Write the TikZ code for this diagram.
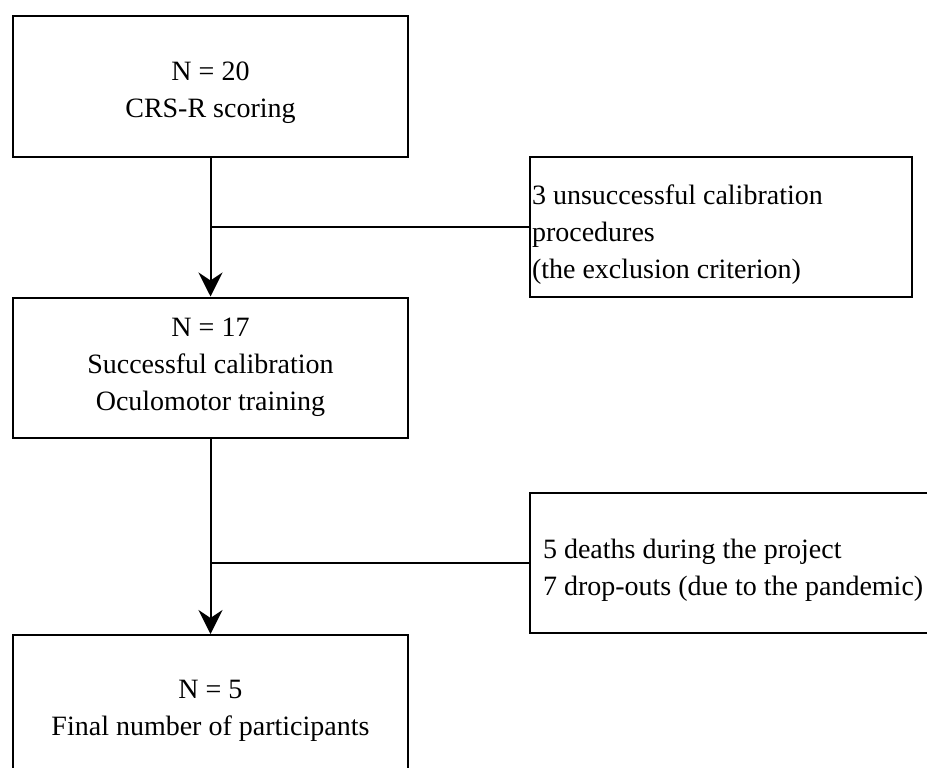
\documentclass[tikz,border=0pt]{standalone}
\usepackage{fontspec}
\setmainfont{Liberation Serif}
\usetikzlibrary{arrows.meta}

\tikzset{every picture/.style={line width=1.5pt}}
\tikzset{
	stagebox/.style={draw, rectangle, minimum width=296.25pt, minimum height=105pt, align=center, font=\fontsize{21}{27.75}\selectfont},
	notebox/.style={draw, rectangle, minimum height=105pt, align=flush left, font=\fontsize{21}{27.75}\selectfont},
	flowarrow/.style={-{Stealth[length=18pt,width=18pt,inset=6pt]}}}

\begin{document}
\begin{tikzpicture}[x=0.75pt,y=0.75pt,yscale=-1,xscale=1]
	\useasboundingbox (0,0) rectangle (927,767);
	\clip (0,0) rectangle (927,767);

	% Stage Boxes
	\node [stagebox] (crs) at (210.5,86.5) {\rule{0pt}{24pt}N = 20\\CRS-R scoring};
	\node [stagebox] (oculo) at (210.5,367.5) {N = 17\\Successful calibration\\Oculomotor training};
	\node [stagebox] (final) at (210.5,705) {\rule{0pt}{22pt}N = 5\\Final number of participants};

	% Exclusion Boxes
	\node [notebox, inner xsep=1.5pt, text width=283.5pt] (excl) at (721,227) {\rule{0pt}{25.5pt}3 unsuccessful calibration\\procedures\\(the exclusion criterion)};
	\node [notebox, inner xsep=9.75pt, text width=295.5pt] (drop) at (740,563) {\rule{0pt}{26pt}5 deaths during the project\\7 drop-outs (due to the pandemic)};

	% Connectors
	\draw [flowarrow] (crs) -- (oculo);
	\draw (excl.west) -- (excl.west -| crs.south);
	\draw [flowarrow] (oculo) -- (final);
	\draw (drop.west) -- (drop.west -| oculo.south);

\end{tikzpicture}
\end{document}
